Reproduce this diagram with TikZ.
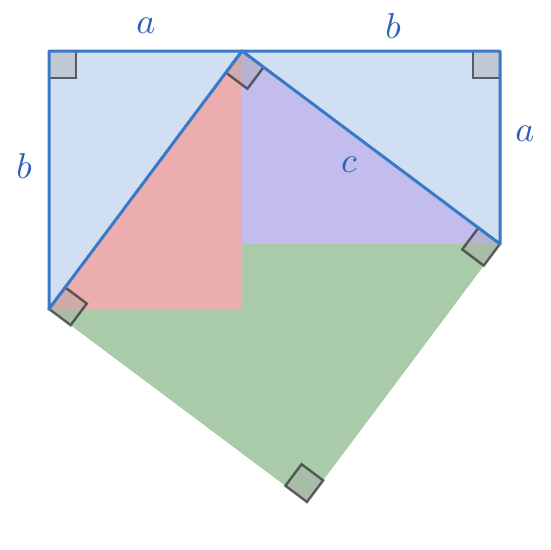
\documentclass[tikz,border=0pt]{standalone}
\usepackage{graphicx}
\usetikzlibrary{calc}
\definecolor{bluefill}{HTML}{D0DFF2}
\definecolor{redfill}{HTML}{EBADAD}
\definecolor{purplefill}{HTML}{C2BDED}
\definecolor{greenfill}{HTML}{AACBAA}
\definecolor{edgeblue}{HTML}{3A78C8}
\definecolor{textblue}{HTML}{2A62B8}
\tikzset{
  edge/.style={draw=edgeblue, line width=3pt, line join=round, line cap=round},
  rmark/.style={fill=gray!70, fill opacity=0.4, draw=black!80, draw opacity=0.75, line width=2.4pt, line join=miter},
  lab/.style={text=textblue, inner sep=0pt}
}
\newcommand{\ramark}[3]{% corner, toward p, toward q
  \draw[rmark] (#1) -- ($(#1)!27pt!(#2)$) -- ($($(#1)!27pt!(#2)$)+($(#1)!27pt!(#3)$)-(#1)$) -- ($(#1)!27pt!(#3)$) -- cycle;
}
\newcommand{\biglab}[1]{\scalebox{3.6}{$#1$}}
\begin{document}
\begin{tikzpicture}[x=1pt,y=-1pt]
\useasboundingbox (0,0) rectangle (550,550);
\coordinate (A) at (49,51);
\coordinate (B) at (242,51);
\coordinate (C) at (500,51);
\coordinate (D) at (49,309);
\coordinate (E) at (500,244);
\coordinate (F) at (307,502);
\coordinate (G) at (242,309);
\coordinate (H) at (242,244);
% fills
\fill[bluefill] (A) -- (B) -- (D) -- cycle;
\fill[bluefill] (B) -- (C) -- (E) -- cycle;
\fill[redfill] (B) -- (G) -- (D) -- cycle;
\fill[purplefill] (B) -- (E) -- (H) -- cycle;
\fill[greenfill] (D) -- (G) -- (H) -- (E) -- (F) -- cycle;
% right angle marks
\ramark{A}{B}{D}
\ramark{C}{B}{E}
\ramark{B}{D}{E}
\ramark{E}{B}{F}
\ramark{D}{B}{F}
\ramark{F}{E}{D}
% edges
\draw[edge] (D) -- (A) -- (C) -- (E) -- (B) -- (D);
% labels
\node[lab] (la) at (146,26) {\biglab{a}};
\node[lab] (lb) at (393,26) {\biglab{b}};
\node[lab] (lb2) at (24,166) {\biglab{b}};
\node[lab] (la2) at (525,134) {\biglab{a}};
\node[lab] (lc) at (349,165) {\biglab{c}};
\end{tikzpicture}
\end{document}
